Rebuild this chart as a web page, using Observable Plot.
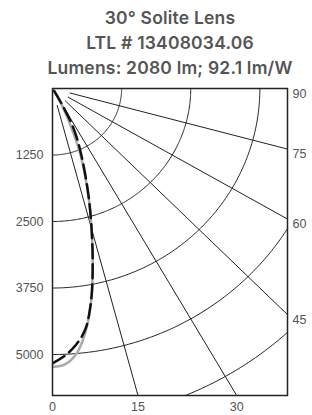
<!DOCTYPE html>
<html><head><meta charset="utf-8">
<script src="https://cdn.jsdelivr.net/npm/d3@7"></script>
<script src="https://cdn.jsdelivr.net/npm/@observablehq/plot@0.6"></script>
<style>
body{margin:0;background:#fff;width:312px;height:415px;overflow:hidden}
#title{box-sizing:border-box;width:312px;padding-left:28px;padding-top:5px;height:80px;line-height:25px;text-align:center;font-family:Inter,"Noto Sans",sans-serif;font-weight:600;font-size:17.5px;letter-spacing:0.2px;color:#555;white-space:nowrap}
</style></head><body>
<div id="title"><div>30° Solite Lens</div><div>LTL # 13408034.06</div><div>Lumens: 2080 lm; 92.1 lm/W</div></div>
<div id="chart"></div>
<script>
// vertical angle (degrees from nadir)
const angles = [0, 2.5, 5, 7.5, 10, 12.5, 15, 17.5, 20, 22.5, 25, 27.5, 30, 32.5, 35];
// candela, dashed black series
const candelaDashed = [5165, 5030, 4840, 4560, 4030, 3360, 2730, 2200, 1740, 1370, 1070, 770, 330, 80, 0];
// candela, solid gray series
const candelaSolid = [5235, 5190, 5000, 4600, 4040, 3360, 2730, 2190, 1700, 1270, 790, 440, 160, 30, 0];
const rings = [1250, 2500, 3750, 5000, 6250];
const spokes = [15, 30, 45, 60, 75];
const leftTicks = [1250, 2500, 3750, 5000];
const bottomTicks = [0, 15, 30];
const rightTicks = [90, 75, 60, 45];
const xMax = 4250, yMax = 5770, spokeStart = 330;

const rad = d => d * Math.PI / 180;
const toXY = (a, I) => ({x: I * Math.sin(rad(a)), y: I * Math.cos(rad(a))});
const ringPts = rings.flatMap(r => d3.range(0, 90.001, 0.5).map(a => ({r, ...toXY(a, r)})));
const spokePts = spokes.flatMap(a => [{a, ...toXY(a, spokeStart)}, {a, ...toXY(a, 9000)}]);
const dashed = angles.map((a, i) => toXY(a, candelaDashed[i]));
const solid = angles.map((a, i) => toXY(a, candelaSolid[i]));

const chart = Plot.plot({
  width: 312, height: 335,
  marginLeft: 52, marginRight: 25, marginTop: 8, marginBottom: 20,
  style: {fontFamily: "'Liberation Sans', Arial, sans-serif", fontSize: "12.5px", color: "#555", background: "#fff"},
  x: {domain: [0, xMax], axis: null},
  y: {domain: [0, yMax], reverse: true, axis: null},
  marks: [
    Plot.line(ringPts, {x: "x", y: "y", z: "r", stroke: "#222", strokeWidth: 1, clip: true}),
    Plot.line(spokePts, {x: "x", y: "y", z: "a", stroke: "#222", strokeWidth: 1, clip: true}),
    Plot.line(solid, {x: "x", y: "y", stroke: "#aaa", strokeWidth: 2.5, curve: "catmull-rom", clip: true}),
    Plot.line(dashed, {x: "x", y: "y", stroke: "#111", strokeWidth: 2.5, strokeDasharray: "14,6", curve: "catmull-rom", clip: true}),
    Plot.frame({stroke: "#222", strokeWidth: 1.5}),
    Plot.text(leftTicks, {x: 0, y: d => d, text: d => String(d), textAnchor: "end", dx: -9, fill: "#555"}),
    Plot.text(bottomTicks, {x: d => yMax * Math.tan(rad(d)), y: yMax, text: d => String(d), dy: 11, fill: "#555"}),
    Plot.text(rightTicks, {x: xMax, y: d => d === 90 ? 0 : xMax / Math.tan(rad(d)), text: d => String(d), textAnchor: "start", dx: 5, dy: 5, fill: "#555"})
  ]
});
document.getElementById("chart").appendChild(chart);
</script>
</body></html>
